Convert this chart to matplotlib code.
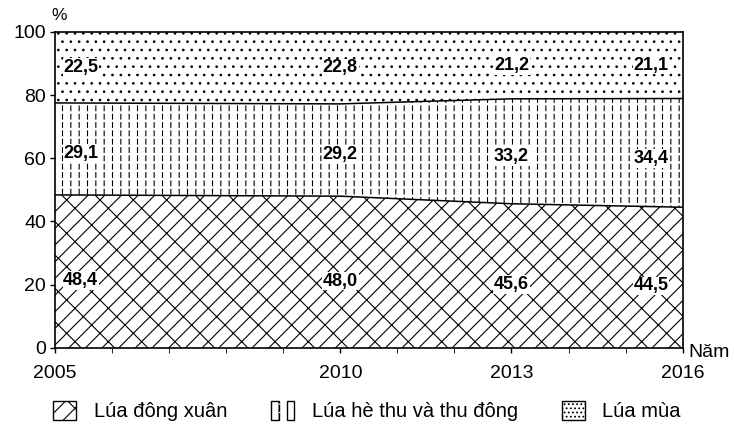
import matplotlib
matplotlib.use("Agg")
import matplotlib.pyplot as plt
from matplotlib.patches import Rectangle
from matplotlib.legend_handler import HandlerTuple
from matplotlib.ticker import MultipleLocator
import numpy as np

years = [2005, 2010, 2013, 2016]
dong_xuan = [48.4, 48.0, 45.6, 44.5]
he_thu = [29.1, 29.2, 33.2, 34.4]
lua_mua = [22.5, 22.8, 21.2, 21.1]
label_x = [2005.45, 2010, 2013, 2015.45]
legend_names = ["Lúa đông xuân", "Lúa hè thu và thu đông", "Lúa mùa"]

plt.rcParams["font.family"] = ["Liberation Sans", "DejaVu Sans"]
plt.rcParams["hatch.linewidth"] = 0.8

x = np.array(years, dtype=float)
b1 = np.array(dong_xuan)
b2 = b1 + np.array(he_thu)
b3 = b2 + np.array(lua_mua)

fig = plt.figure(figsize=(7.34, 4.30), dpi=100)
ax = fig.add_axes([0.075, 0.191, 0.855, 0.735])


def set_hlw(p, hlw):
    if hasattr(p, "set_hatch_linewidth"):
        p.set_hatch_linewidth(hlw)
    return p


def band(lo, hi, hatch, color="black", face="white", hlw=0.8):
    xs = np.concatenate([x, x[::-1]])
    ys = np.concatenate([hi, lo[::-1]])
    with plt.rc_context({"hatch.linewidth": hlw}):
        p, = ax.fill(xs, ys, facecolor=face, edgecolor=color, hatch=hatch, linewidth=0)
    return set_hlw(p, hlw)


zero = np.zeros_like(b1)
band(zero, b1, "//\\")
band(b1, b2, "||")
# white horizontal hatch on top cuts the vertical lines into dashes
band(b1, b2, "--", color="white", face="none", hlw=1.8)
band(b2, b3, "..", hlw=0.7)
ax.plot(x, b1, color="black", lw=1.1)
ax.plot(x, b2, color="black", lw=1.1)

lbl = dict(ha="center", va="center", fontsize=13, fontweight="bold",
           bbox=dict(facecolor="white", edgecolor="none", pad=0.5))
for i in range(len(years)):
    ax.text(label_x[i], b1[i] * 0.44, f"{dong_xuan[i]:.1f}".replace(".", ","), **lbl)
    ax.text(label_x[i], b1[i] + he_thu[i] * 0.45, f"{he_thu[i]:.1f}".replace(".", ","), **lbl)
    ax.text(label_x[i], (b2[i] + b3[i]) / 2, f"{lua_mua[i]:.1f}".replace(".", ","), **lbl)

ax.set_xlim(2005, 2016)
ax.set_ylim(0, 100)
ax.set_xticks(years)
ax.xaxis.set_minor_locator(MultipleLocator(1))
ax.set_yticks(range(0, 101, 20))
ax.tick_params(axis="both", labelsize=14, length=3.6, width=1)
ax.tick_params(axis="x", which="both", length=3.6, pad=8.5)
ax.tick_params(axis="y", pad=3)
for s in ax.spines.values():
    s.set_linewidth(1.2)

ax.annotate("%", xy=(0, 1), xycoords="axes fraction", xytext=(-3, 6),
            textcoords="offset points", ha="left", va="bottom", fontsize=12.5)
ax.annotate("Năm", xy=(1, 0), xycoords="axes fraction", xytext=(4, -3),
            textcoords="offset points", ha="left", va="center", fontsize=14)

h1 = Rectangle((0, 0), 1, 1, facecolor="white", edgecolor="black", hatch="//\\", lw=1)
h2a = Rectangle((0, 0), 1, 1, facecolor="white", edgecolor="black", hatch="||", lw=1)
h2b = set_hlw(Rectangle((0, 0), 1, 1, facecolor="none", edgecolor="white", hatch="--", linewidth=0), 1.8)
h2c = Rectangle((0, 0), 1, 1, facecolor="none", edgecolor="black", lw=1)
h3 = Rectangle((0, 0), 1, 1, facecolor="white", edgecolor="black", hatch="....", lw=1)
fig.legend([h1, (h2a, h2b, h2c), h3], legend_names, ncol=3, frameon=False,
           loc="center", bbox_to_anchor=(0.5, 0.044), fontsize=14.5,
           handlelength=1.15, handleheight=1.1, handletextpad=0.85, columnspacing=2.2,
           borderpad=0, handler_map={tuple: HandlerTuple(ndivide=None)})

fig.savefig("out.png", dpi=100)
